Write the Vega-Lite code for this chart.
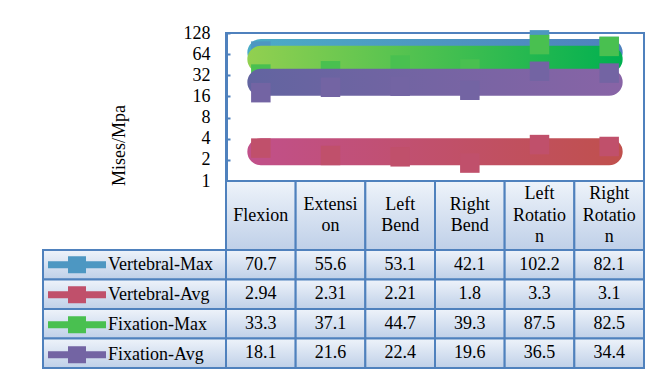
{
  "$schema": "https://vega.github.io/schema/vega-lite/v6.json",
  "background": "white",
  "padding": {"left": 42, "top": 23, "right": 2, "bottom": 2},
  "datasets": {
    "stress": [
      {"series": "Vertebral-Max", "category": "Flexion", "value": 70.7},
      {"series": "Vertebral-Max", "category": "Extension", "value": 55.6},
      {"series": "Vertebral-Max", "category": "Left Bend", "value": 53.1},
      {"series": "Vertebral-Max", "category": "Right Bend", "value": 42.1},
      {"series": "Vertebral-Max", "category": "Left Rotation", "value": 102.2},
      {"series": "Vertebral-Max", "category": "Right Rotation", "value": 82.1},
      {"series": "Vertebral-Avg", "category": "Flexion", "value": 2.94},
      {"series": "Vertebral-Avg", "category": "Extension", "value": 2.31},
      {"series": "Vertebral-Avg", "category": "Left Bend", "value": 2.21},
      {"series": "Vertebral-Avg", "category": "Right Bend", "value": 1.8},
      {"series": "Vertebral-Avg", "category": "Left Rotation", "value": 3.3},
      {"series": "Vertebral-Avg", "category": "Right Rotation", "value": 3.1},
      {"series": "Fixation-Max", "category": "Flexion", "value": 33.3},
      {"series": "Fixation-Max", "category": "Extension", "value": 37.1},
      {"series": "Fixation-Max", "category": "Left Bend", "value": 44.7},
      {"series": "Fixation-Max", "category": "Right Bend", "value": 39.3},
      {"series": "Fixation-Max", "category": "Left Rotation", "value": 87.5},
      {"series": "Fixation-Max", "category": "Right Rotation", "value": 82.5},
      {"series": "Fixation-Avg", "category": "Flexion", "value": 18.1},
      {"series": "Fixation-Avg", "category": "Extension", "value": 21.6},
      {"series": "Fixation-Avg", "category": "Left Bend", "value": 22.4},
      {"series": "Fixation-Avg", "category": "Right Bend", "value": 19.6},
      {"series": "Fixation-Avg", "category": "Left Rotation", "value": 36.5},
      {"series": "Fixation-Avg", "category": "Right Rotation", "value": 34.4}
    ],
    "moves": [
      {"category": "Flexion", "label": "Flexion"},
      {"category": "Extension", "label": "Extensi\non"},
      {"category": "Left Bend", "label": "Left\nBend"},
      {"category": "Right Bend", "label": "Right\nBend"},
      {"category": "Left Rotation", "label": "Left\nRotatio\nn"},
      {"category": "Right Rotation", "label": "Right\nRotatio\nn"}
    ],
    "groups": [
      {"series": "Vertebral-Max"},
      {"series": "Vertebral-Avg"},
      {"series": "Fixation-Max"},
      {"series": "Fixation-Avg"}
    ]
  },
  "columns": 2,
  "spacing": 0,
  "align": "each",
  "bounds": "flush",
  "concat": [
    {
      "width": 183,
      "height": 148,
      "data": {"values": []},
      "mark": "point"
    },
    {
      "width": 418,
      "height": 148,
      "view": {"stroke": "#4f81bd", "strokeWidth": 2},
      "data": {"name": "stress"},
      "encoding": {
        "x": {
          "field": "category",
          "type": "nominal",
          "sort": null,
          "scale": {"type": "band", "paddingInner": 0, "paddingOuter": 0},
          "axis": null
        }
      },
      "layer": [
        {
          "transform": [
            {"filter": "datum.series === 'Vertebral-Max'"},
            {"joinaggregate": [{"op": "mean", "field": "value", "as": "avg"}]}
          ],
          "mark": {"type": "trail", "size": 27, "fill": {"gradient": "linear", "x1": 0, "y1": 0, "x2": 1, "y2": 0, "stops": [{"offset": 0, "color": "#4bacc6"}, {"offset": 1, "color": "#4f81bd"}]}},
          "encoding": {"y": {"field": "avg", "type": "quantitative", "scale": {"type": "log", "base": 2, "domain": [1, 128], "nice": false}, "axis": {"title": "Mises/Mpa", "values": [1, 2, 4, 8, 16, 32, 64, 128]}}}
        },
        {
          "transform": [{"filter": "datum.series === 'Vertebral-Max'"}],
          "mark": {"type": "point", "shape": "square", "filled": true, "size": 380, "opacity": 1, "strokeWidth": 0},
          "encoding": {
            "y": {"field": "value", "type": "quantitative", "axis": {"title": "Mises/Mpa", "values": [1, 2, 4, 8, 16, 32, 64, 128]}},
            "color": {"field": "series", "type": "nominal", "scale": {"domain": ["Vertebral-Max", "Vertebral-Avg", "Fixation-Max", "Fixation-Avg"]}}
          }
        },
        {
          "transform": [
            {"filter": "datum.series === 'Vertebral-Avg'"},
            {"joinaggregate": [{"op": "mean", "field": "value", "as": "avg"}]}
          ],
          "mark": {"type": "trail", "size": 27, "fill": {"gradient": "linear", "x1": 0, "y1": 0, "x2": 1, "y2": 0, "stops": [{"offset": 0, "color": "#c1508a"}, {"offset": 1, "color": "#c0504d"}]}},
          "encoding": {"y": {"field": "avg", "type": "quantitative", "axis": {"title": "Mises/Mpa", "values": [1, 2, 4, 8, 16, 32, 64, 128]}}}
        },
        {
          "transform": [{"filter": "datum.series === 'Vertebral-Avg'"}],
          "mark": {"type": "point", "shape": "square", "filled": true, "size": 380, "opacity": 1, "strokeWidth": 0},
          "encoding": {
            "y": {"field": "value", "type": "quantitative", "axis": {"title": "Mises/Mpa", "values": [1, 2, 4, 8, 16, 32, 64, 128]}},
            "color": {"field": "series", "type": "nominal", "scale": {"domain": ["Vertebral-Max", "Vertebral-Avg", "Fixation-Max", "Fixation-Avg"]}}
          }
        },
        {
          "transform": [
            {"filter": "datum.series === 'Fixation-Max'"},
            {"joinaggregate": [{"op": "mean", "field": "value", "as": "avg"}]}
          ],
          "mark": {"type": "trail", "size": 27, "fill": {"gradient": "linear", "x1": 0, "y1": 0, "x2": 1, "y2": 0, "stops": [{"offset": 0, "color": "#92d050"}, {"offset": 1, "color": "#00b050"}]}},
          "encoding": {"y": {"field": "avg", "type": "quantitative", "axis": {"title": "Mises/Mpa", "values": [1, 2, 4, 8, 16, 32, 64, 128]}}}
        },
        {
          "transform": [{"filter": "datum.series === 'Fixation-Max'"}],
          "mark": {"type": "point", "shape": "square", "filled": true, "size": 380, "opacity": 1, "strokeWidth": 0},
          "encoding": {
            "y": {"field": "value", "type": "quantitative", "axis": {"title": "Mises/Mpa", "values": [1, 2, 4, 8, 16, 32, 64, 128]}},
            "color": {"field": "series", "type": "nominal", "scale": {"domain": ["Vertebral-Max", "Vertebral-Avg", "Fixation-Max", "Fixation-Avg"]}}
          }
        },
        {
          "transform": [
            {"filter": "datum.series === 'Fixation-Avg'"},
            {"joinaggregate": [{"op": "mean", "field": "value", "as": "avg"}]}
          ],
          "mark": {"type": "trail", "size": 27, "fill": {"gradient": "linear", "x1": 0, "y1": 0, "x2": 1, "y2": 0, "stops": [{"offset": 0, "color": "#6264a0"}, {"offset": 1, "color": "#8864a6"}]}},
          "encoding": {"y": {"field": "avg", "type": "quantitative", "axis": {"title": "Mises/Mpa", "values": [1, 2, 4, 8, 16, 32, 64, 128]}}}
        },
        {
          "transform": [{"filter": "datum.series === 'Fixation-Avg'"}],
          "mark": {"type": "point", "shape": "square", "filled": true, "size": 380, "opacity": 1, "strokeWidth": 0},
          "encoding": {
            "y": {"field": "value", "type": "quantitative", "axis": {"title": "Mises/Mpa", "values": [1, 2, 4, 8, 16, 32, 64, 128]}},
            "color": {"field": "series", "type": "nominal", "scale": {"domain": ["Vertebral-Max", "Vertebral-Avg", "Fixation-Max", "Fixation-Avg"]}}
          }
        }
      ]
    },
    {
      "width": 183,
      "height": 69,
      "data": {"values": []},
      "mark": "point"
    },
    {
      "width": 418,
      "height": 69,
      "data": {"name": "moves"},
      "encoding": {
        "x": {
          "field": "category",
          "type": "nominal",
          "sort": null,
          "scale": {"type": "band", "paddingInner": 0, "paddingOuter": 0},
          "axis": null
        }
      },
      "layer": [
        {
          "mark": {
            "type": "rect",
            "fill": {"gradient": "linear", "x1": 0, "y1": 0, "x2": 0, "y2": 1, "stops": [{"offset": 0, "color": "#eef3fa"}, {"offset": 1, "color": "#bfd0e8"}]},
            "stroke": "#4f81bd",
            "strokeWidth": 2
          }
        },
        {
          "mark": {
            "type": "text",
            "lineBreak": "\n",
            "lineHeight": 21.5,
            "baseline": "middle",
            "align": "center",
            "dy": {"expr": "-(length(split(datum.label, '\\n')) - 1) * 10.75"},
            "font": "Liberation Serif",
            "fontSize": 18,
            "color": "#000000"
          },
          "encoding": {"text": {"field": "label", "type": "nominal"}}
        }
      ]
    },
    {
      "width": 183,
      "height": 118,
      "data": {"name": "groups"},
      "mark": {
        "type": "rect",
        "fill": {"gradient": "linear", "x1": 0, "y1": 0, "x2": 0, "y2": 1, "stops": [{"offset": 0, "color": "#eef3fa"}, {"offset": 1, "color": "#bfd0e8"}]},
        "stroke": "#4f81bd",
        "strokeWidth": 2
      },
      "encoding": {
        "y": {
          "field": "series",
          "type": "nominal",
          "sort": null,
          "scale": {"type": "band", "paddingInner": 0, "paddingOuter": 0},
          "axis": null
        }
      }
    },
    {
      "width": 418,
      "height": 118,
      "data": {"name": "stress"},
      "encoding": {
        "x": {
          "field": "category",
          "type": "nominal",
          "sort": null,
          "scale": {"type": "band", "paddingInner": 0, "paddingOuter": 0},
          "axis": null
        },
        "y": {
          "field": "series",
          "type": "nominal",
          "sort": null,
          "scale": {"type": "band", "paddingInner": 0, "paddingOuter": 0},
          "axis": null
        }
      },
      "layer": [
        {
          "mark": {
            "type": "rect",
            "fill": {"gradient": "linear", "x1": 0, "y1": 0, "x2": 0, "y2": 1, "stops": [{"offset": 0, "color": "#eef3fa"}, {"offset": 1, "color": "#bfd0e8"}]},
            "stroke": "#4f81bd",
            "strokeWidth": 2
          }
        },
        {
          "mark": {"type": "text", "baseline": "middle", "align": "center", "font": "Liberation Serif", "fontSize": 18, "color": "#000000"},
          "encoding": {"text": {"field": "value", "type": "quantitative"}}
        }
      ]
    }
  ],
  "config": {
    "view": {"stroke": null},
    "font": "Liberation Serif",
    "range": {"category": ["#4d97c2", "#c0506b", "#49c050", "#7364a3"]},
    "legend": {
      "orient": "none",
      "legendX": 5,
      "legendY": 217,
      "direction": "vertical",
      "title": null,
      "padding": 0,
      "symbolType": "M-1,-0.12H1V0.12H-1Z M-0.31,-0.29H0.31V0.29H-0.31Z",
      "symbolSize": 3364,
      "symbolStrokeWidth": 0,
      "symbolOpacity": 1,
      "labelFont": "Liberation Serif",
      "labelFontSize": 18,
      "labelColor": "#000000",
      "labelOffset": 2,
      "labelLimit": 0,
      "clipHeight": 29.5,
      "rowPadding": 0
    },
    "axisY": {
      "domainColor": "#4f81bd",
      "domainWidth": 3,
      "tickColor": "#4f81bd",
      "tickWidth": 2,
      "tickSize": -4,
      "labelPadding": 20,
      "labelFont": "Liberation Serif",
      "labelFontSize": 18,
      "labelColor": "#000000",
      "labelBaseline": "middle",
      "grid": false,
      "titleFont": "Liberation Serif",
      "titleFontSize": 18,
      "titleFontWeight": "normal",
      "titleColor": "#000000",
      "titleAngle": -90,
      "titleX": -102,
      "titleY": 112,
      "titleAlign": "center",
      "titleBaseline": "alphabetic"
    }
  }
}
